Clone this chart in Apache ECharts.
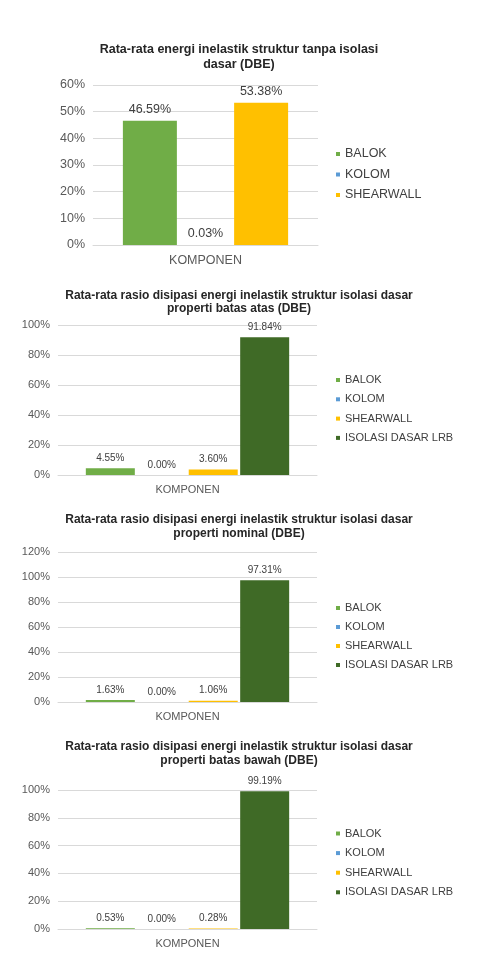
<!DOCTYPE html>
<html>
<head>
<meta charset="utf-8">
<script src="https://cdn.jsdelivr.net/npm/echarts@6/dist/echarts.min.js"></script>
<style>
  html, body { margin: 0; padding: 0; background: #fff; }
  #main { width: 478px; height: 965px; }
</style>
</head>
<body>
<div id="main"></div>
<script>
// data
const categories = ["KOMPONEN"];
const components = ["BALOK", "KOLOM", "SHEARWALL", "ISOLASI DASAR LRB"];
const titles = [
  "Rata-rata energi inelastik struktur tanpa isolasi\ndasar (DBE)",
  "Rata-rata rasio disipasi energi inelastik struktur isolasi dasar\nproperti batas atas (DBE)",
  "Rata-rata rasio disipasi energi inelastik struktur isolasi dasar\nproperti nominal (DBE)",
  "Rata-rata rasio disipasi energi inelastik struktur isolasi dasar\nproperti batas bawah (DBE)",
];
const dbeFixedBase = [46.59, 0.03, 53.38]; // tanpa isolasi
const dbeUpper = [4.55, 0.0, 3.6, 91.84]; // batas atas
const dbeNominal = [1.63, 0.0, 1.06, 97.31]; // nominal
const dbeLower = [0.53, 0.0, 0.28, 99.19]; // batas bawah
const yMax = [60, 100, 120, 100];
const yStep = [10, 20, 20, 20];

const allData = [dbeFixedBase, dbeUpper, dbeNominal, dbeLower];
const colors = ["#70AD47", "#5B9BD5", "#FFC000", "#3F6A26"];
const font = "Liberation Sans, Arial, sans-serif";

// layout per panel
const panels = [
  { titleTop: 42.5, lh: 15, tSize: 12.5, left: 93, top: 85, width: 225, height: 160, fs: 12.5, vfs: 12.5, barW: 54, gap: "3%", legTop: 147, legGap: 6.5 },
  { titleTop: 289.5, lh: 13, tSize: 12, left: 58, top: 325, width: 259, height: 150, fs: 11, vfs: 10, barW: 49, gap: "5%", legTop: 373, legGap: 5.3 },
  { titleTop: 513, lh: 14, tSize: 12, left: 58, top: 552, width: 259, height: 150, fs: 11, vfs: 10, barW: 49, gap: "5%", legTop: 601, legGap: 5 },
  { titleTop: 740, lh: 14, tSize: 12, left: 58, top: 790, width: 259, height: 139, fs: 11, vfs: 10, barW: 49, gap: "5%", legTop: 826.5, legGap: 5.6 },
];

const chart = echarts.init(document.getElementById("main"));

const option = {
  backgroundColor: "#fff",
  animation: false,
  title: [],
  legend: [],
  grid: [],
  xAxis: [],
  yAxis: [],
  series: [],
};

panels.forEach((p, i) => {
  const vals = allData[i];
  const names = components.slice(0, vals.length);
  option.title.push({
    text: titles[i],
    left: "center",
    top: p.titleTop,
    padding: 0,
    textStyle: { fontFamily: font, fontSize: p.tSize, fontWeight: "bold", color: "#262626", lineHeight: p.lh },
  });
  option.grid.push({ left: p.left, top: p.top, width: p.width, height: p.height });
  option.xAxis.push({
    type: "category",
    gridIndex: i,
    data: categories,
    axisLine: { lineStyle: { color: "#D9D9D9" } },
    axisTick: { show: false },
    axisLabel: { color: "#595959", fontFamily: font, fontSize: p.fs, margin: 9 },
  });
  option.yAxis.push({
    type: "value",
    gridIndex: i,
    min: 0,
    max: yMax[i],
    interval: yStep[i],
    axisLine: { show: false },
    axisTick: { show: false },
    axisLabel: { color: "#595959", fontFamily: font, fontSize: p.fs, margin: 8, formatter: "{value}%" },
    splitLine: { lineStyle: { color: "#D9D9D9" } },
  });
  option.legend.push({
    orient: "vertical",
    left: 336,
    top: p.legTop,
    padding: 0,
    data: names,
    icon: "rect",
    itemWidth: 4,
    itemHeight: 4,
    itemGap: p.legGap,
    itemTextGap: 5,
    selectedMode: false,
    textStyle: { color: "#404040", fontFamily: font, fontSize: p.fs, lineHeight: 14 },
  });
  names.forEach((n, k) => {
    option.series.push({
      name: n,
      type: "bar",
      xAxisIndex: i,
      yAxisIndex: i,
      data: [vals[k]],
      barWidth: p.barW,
      barGap: p.gap,
      itemStyle: { color: colors[k] },
      label: {
        show: true,
        position: "top",
        distance: 5,
        color: "#404040",
        fontFamily: font,
        fontSize: p.vfs,
        formatter: (d) => d.value.toFixed(2) + "%",
      },
    });
  });
});

chart.setOption(option);
</script>
</body>
</html>
